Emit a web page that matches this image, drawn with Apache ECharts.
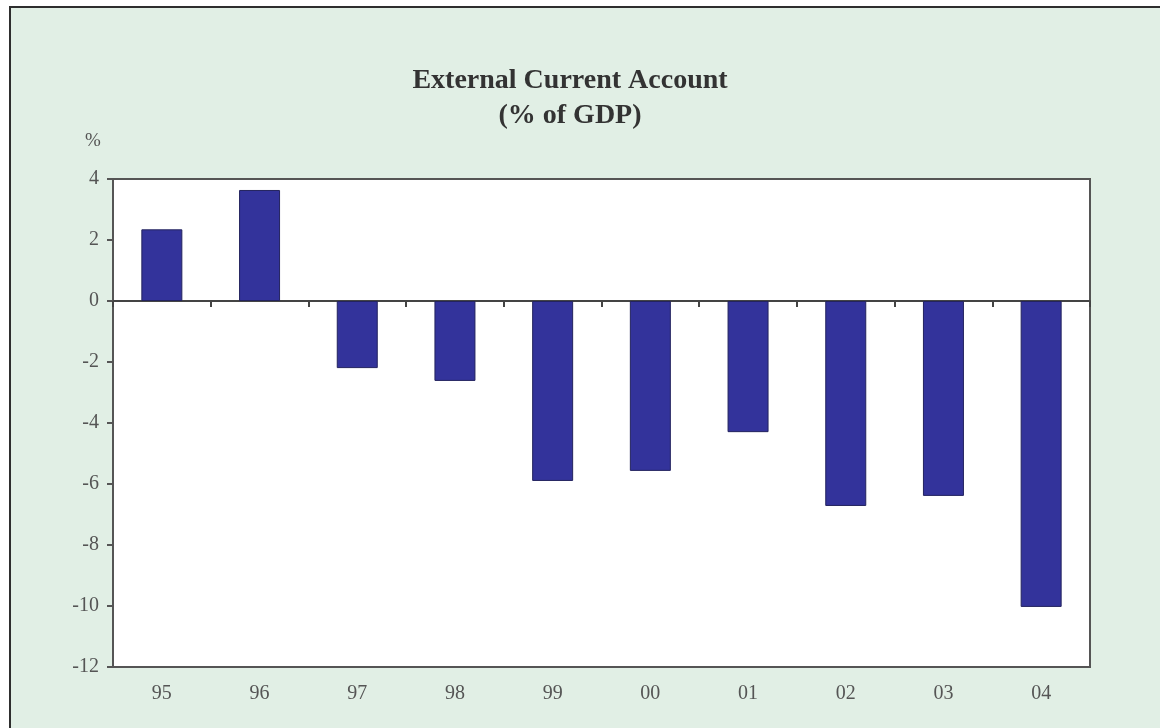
<!DOCTYPE html>
<html>
<head>
<meta charset="utf-8">
<script src="https://cdn.jsdelivr.net/npm/echarts@6/dist/echarts.min.js"></script>
<style>
  html, body { margin: 0; padding: 0; background: #fff; overflow: hidden; }
  #frame {
    position: absolute; left: 9px; top: 6px; width: 1300px; height: 900px;
    border: 2px solid #2e2e2e; background: #e1efe5;
  }
  #chart { position: absolute; left: 0; top: 0; width: 1160px; height: 728px; }
</style>
</head>
<body>
<div id="frame"></div>
<div id="chart"></div>
<script>
const years = ['95', '96', '97', '98', '99', '00', '01', '02', '03', '04']
const currentAccount = [2.35, 3.64, -2.2, -2.62, -5.9, -5.57, -4.3, -6.72, -6.39, -10.03]
const yTicks = { min: -12, max: 4, interval: 2 }

const serif = '"Liberation Serif", "DejaVu Serif", serif'

const chart = echarts.init(document.getElementById('chart'))
chart.setOption({
  backgroundColor: 'transparent',
  animation: false,
  title: [
    {
      text: 'External Current Account\n(% of GDP)',
      left: 565, top: 58, textAlign: 'center',
      textStyle: { fontFamily: serif, fontSize: 28, fontWeight: 'bold', color: '#333', lineHeight: 35 }
    },
    {
      text: '%',
      left: 80, top: 127,
      textStyle: { fontFamily: serif, fontSize: 19, fontWeight: 'normal', color: '#555' }
    }
  ],
  grid: {
    left: 113, right: 70, top: 179, bottom: 61,
    show: true, backgroundColor: '#fff', borderColor: '#555', borderWidth: 2
  },
  xAxis: [
    {
      type: 'category', data: years, position: 'bottom',
      axisLine: { onZero: false, lineStyle: { color: '#555', width: 2 } },
      axisTick: { show: false },
      axisLabel: { margin: 17, fontFamily: serif, fontSize: 20, color: '#555' }
    },
    {
      type: 'category', data: years, position: 'bottom',
      axisLine: { onZero: true, onZeroAxisIndex: 0, lineStyle: { color: '#444', width: 2 } },
      axisTick: { show: true, alignWithLabel: false, length: 6, lineStyle: { color: '#444', width: 2 } },
      axisLabel: { show: false }
    }
  ],
  yAxis: {
    type: 'value', min: yTicks.min, max: yTicks.max, interval: yTicks.interval,
    axisLine: { show: true, lineStyle: { color: '#555', width: 2 } },
    axisTick: { show: true, length: 6, lineStyle: { color: '#555', width: 2 } },
    splitLine: { show: false },
    axisLabel: { margin: 14, fontFamily: serif, fontSize: 20, color: '#555' }
  },
  series: [{
    type: 'bar',
    xAxisIndex: 0,
    data: currentAccount,
    barWidth: 41,
    itemStyle: { color: '#33339b', borderColor: '#23235e', borderWidth: 1 }
  }]
})
</script>
</body>
</html>
